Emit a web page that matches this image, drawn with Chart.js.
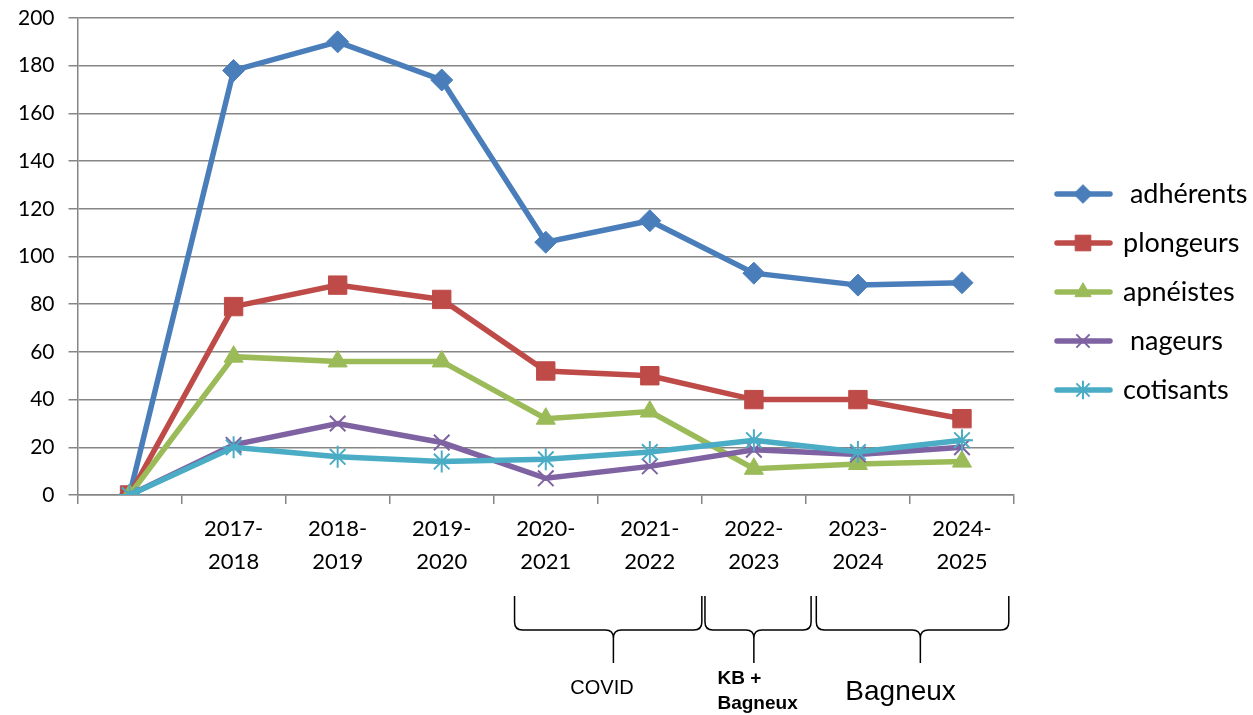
<!DOCTYPE html>
<html>
<head>
<meta charset="utf-8">
<script src="https://cdn.jsdelivr.net/npm/chart.js@4.4.1/dist/chart.umd.min.js"></script>
<style>
  body { margin: 0; background: #fff; }
  #wrap { width: 1253px; height: 715px; }
</style>
</head>
<body>
<div id="wrap"><canvas id="chart" width="1253" height="715"></canvas></div>
<script>
const seasons = ['', ['2017-', '2018'], ['2018-', '2019'], ['2019-', '2020'], ['2020-', '2021'],
  ['2021-', '2022'], ['2022-', '2023'], ['2023-', '2024'], ['2024-', '2025']]

const adherents = [0, 178, 190, 174, 106, 115, 93, 88, 89]
const plongeurs = [0, 79, 88, 82, 52, 50, 40, 40, 32]
const apneistes = [0, 58, 56, 56, 32, 35, 11, 13, 14]
const nageurs = [0, 21, 30, 22, 7, 12, 19, 17, 20]
const cotisants = [0, 20, 16, 14, 15, 18, 23, 18, 23]

const yTicks = [0, 20, 40, 60, 80, 100, 120, 140, 160, 180, 200]

// periods under the x axis: [label, from, to, tip] in category index units
const periods = [
  ['COVID', 3.7, 5.5, 4.65],
  ['KB +\nBagneux', 5.53, 6.55, 6.0],
  ['Bagneux', 6.6, 8.45, 7.6]
]

const font = 'Lato, "Open Sans", sans-serif'

function serie(label, data, color, style, radius, order) {
  return {
    label: label,
    data: data,
    borderColor: color,
    backgroundColor: color,
    pointBackgroundColor: color,
    pointBorderColor: color,
    pointStyle: style,
    pointRadius: radius,
    pointBorderWidth: (style == 'crossRot' || style == 'star') ? 2 : 1,
    borderWidth: 5.5,
    tension: 0,
    order: order
  }
}

const datasets = [
  serie(' adhérents', adherents, '#4A7EBB', 'rectRot', 11, 5),
  serie('plongeurs', plongeurs, '#BE4B48', 'rect', 13, 4),
  serie('apnéistes', apneistes, '#9BBB59', 'triangle', 11, 3),
  serie(' nageurs', nageurs, '#7F62A1', 'crossRot', 11, 2),
  serie('cotisants', cotisants, '#4AACC5', 'star', 11, 1)
]

function drawBrace(ctx, x1, x2, xm, yTop, yLine, yTip, r) {
  ctx.beginPath()
  ctx.moveTo(x1, yTop)
  ctx.lineTo(x1, yLine - r)
  ctx.quadraticCurveTo(x1, yLine, x1 + r, yLine)
  ctx.lineTo(xm - r, yLine)
  ctx.quadraticCurveTo(xm, yLine, xm, yLine + r)
  ctx.lineTo(xm, yTip)
  ctx.moveTo(x2, yTop)
  ctx.lineTo(x2, yLine - r)
  ctx.quadraticCurveTo(x2, yLine, x2 - r, yLine)
  ctx.lineTo(xm + r, yLine)
  ctx.quadraticCurveTo(xm, yLine, xm, yLine + r)
  ctx.stroke()
}

const extras = {
  id: 'extras',
  afterDraw(chart) {
    const ctx = chart.ctx
    const x = chart.scales.x
    ctx.save()

    // legend
    datasets.forEach((ds, i) => {
      const y = 194 + i * 49
      ctx.strokeStyle = ds.borderColor
      ctx.lineWidth = 5.5
      ctx.lineCap = 'round'
      ctx.beginPath()
      ctx.moveTo(1057, y)
      ctx.lineTo(1110, y)
      ctx.stroke()
      ctx.fillStyle = ds.borderColor
      ctx.lineWidth = ds.pointBorderWidth
      ctx.lineCap = 'butt'
      Chart.helpers.drawPoint(ctx, {pointStyle: ds.pointStyle, radius: ds.pointRadius * 0.85, borderWidth: ds.pointBorderWidth}, 1083, y)
      ctx.fillStyle = '#000'
      ctx.font = '27px ' + font
      ctx.textBaseline = 'middle'
      ctx.textAlign = 'left'
      ctx.fillText(ds.label, 1123, y)
    })

    // braces and period labels
    ctx.strokeStyle = '#000'
    ctx.lineWidth = 1.5
    periods.forEach(p => {
      const x1 = x.getPixelForValue(p[1])
      const x2 = x.getPixelForValue(p[2])
      const xm = x.getPixelForValue(p[3])
      drawBrace(ctx, x1, x2, xm, 596, 630, 663, 8)
    })
    ctx.fillStyle = '#000'
    ctx.textBaseline = 'middle'
    ctx.textAlign = 'center'
    ctx.font = '20px "Liberation Sans", Arial, sans-serif'
    ctx.fillText(periods[0][0], x.getPixelForValue(4.54), 688)
    ctx.font = 'bold 19px "Liberation Sans", Arial, sans-serif'
    ctx.textAlign = 'left'
    const kb = periods[1][0].split('\n')
    ctx.fillText(kb[0], x.getPixelForValue(5.65), 679)
    ctx.fillText(kb[1], x.getPixelForValue(5.65), 704)
    ctx.textAlign = 'center'
    ctx.font = '28px "Liberation Sans", Arial, sans-serif'
    ctx.fillText(periods[2][0], x.getPixelForValue(7.41), 692)
    ctx.restore()
  }
}

new Chart(document.getElementById('chart'), {
  type: 'line',
  data: { labels: seasons, datasets: datasets },
  options: {
    responsive: false,
    animation: false,
    layout: { padding: { left: 4, right: 239, top: 0, bottom: 129 } },
    plugins: { legend: { display: false }, tooltip: { enabled: false } },
    scales: {
      x: {
        offset: true,
        grid: { offset: true, drawOnChartArea: false, color: '#868686', tickLength: 9, lineWidth: 1.5 },
        border: { color: '#868686', width: 1.5 },
        ticks: { color: '#000', font: { family: font, size: 22, lineHeight: 1.5 }, maxRotation: 0, autoSkip: false, padding: 8 }
      },
      y: {
        min: 0,
        max: 200,
        afterBuildTicks: s => { s.ticks = yTicks.map(v => ({ value: v })) },
        afterFit: s => { s.paddingTop = 18 },
        grid: { color: '#868686', tickLength: 9, lineWidth: 1.5 },
        border: { color: '#868686', width: 1.5 },
        ticks: { color: '#000', font: { family: font, size: 21 }, padding: 14 }
      }
    }
  },
  plugins: [extras]
})
</script>
</body>
</html>
